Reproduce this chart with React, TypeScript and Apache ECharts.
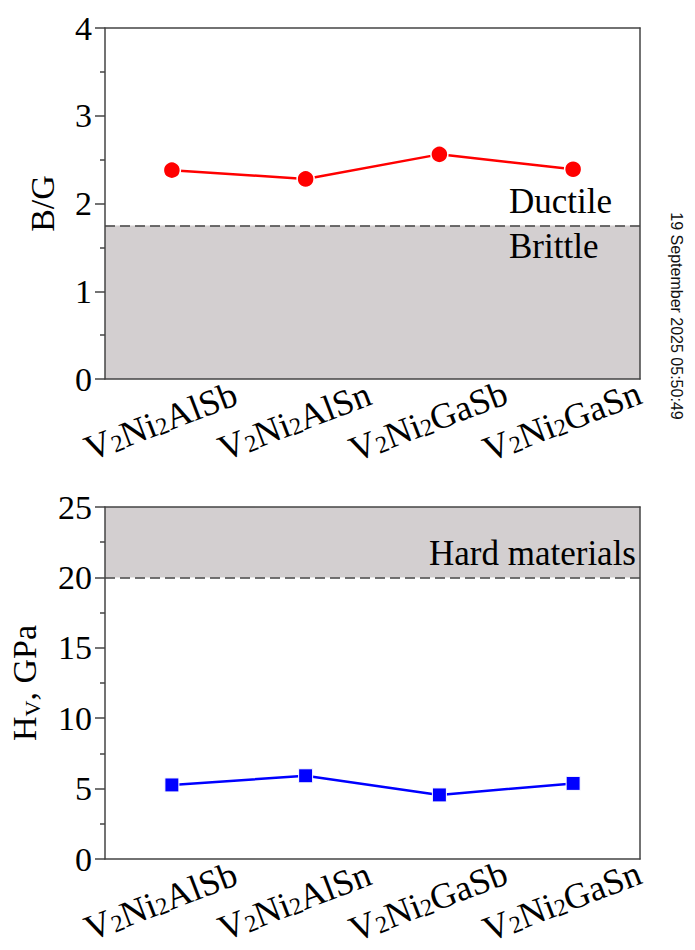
import React, { useEffect, useRef } from "react";
import * as echarts from "echarts";

const categories = ["V2Ni2AlSb", "V2Ni2AlSn", "V2Ni2GaSb", "V2Ni2GaSn"];
const bgValues = [2.38, 2.28, 2.56, 2.39];
const hvValues = [5.26, 5.91, 4.55, 5.37];
const bgRange = [0, 4];
const bgInterval = 1;
const bgThreshold = 1.75;
const hvRange = [0, 25];
const hvInterval = 5;
const hvThreshold = 20;
const bgAnnotations = ["Ductile", "Brittle"];
const hvAnnotation = "Hard materials";
const stampText = "19 September 2025 05:50:49";

const SERIF = "'Liberation Serif', 'Times New Roman', serif";
const AXIS = "#444444";
const SHADE = "#d3cfd0";

const toRich = (v: string) =>
  v
    .split(/(\d+)/)
    .filter((p) => p.length > 0)
    .map((p) => (/^\d+$/.test(p) ? `{s|${p}}` : `{m|${p}}`))
    .join("");

const catRich = {
  m: { fontSize: 36, fontFamily: SERIF, color: "#000", lineHeight: 34 },
  s: { fontSize: 24, fontFamily: SERIF, color: "#000", lineHeight: 2, verticalAlign: "bottom" },
};

const nameRich = {
  m: { fontSize: 34, fontFamily: SERIF, color: "#000", lineHeight: 38 },
  s: { fontSize: 22, fontFamily: SERIF, color: "#000", lineHeight: 14, verticalAlign: "bottom" },
};

function makeXAxes(gridIndex: number) {
  return [
    {
      gridIndex,
      type: "category",
      data: categories,
      boundaryGap: true,
      z: 10,
      axisLine: { onZero: false, lineStyle: { color: AXIS, width: 1.5 } },
      axisTick: { alignWithLabel: true, length: 10, lineStyle: { color: AXIS, width: 1.5 } },
      axisLabel: {
        interval: 0,
        rotate: 21,
        hideOverlap: false,
        align: "center",
        verticalAlign: "middle",
        margin: 38,
        padding: [0, 24, 0, 0],
        formatter: (v: string) => toRich(v),
        rich: catRich,
      },
      splitLine: { show: false },
    },
    {
      gridIndex,
      type: "category",
      data: categories,
      position: "top",
      z: 10,
      axisLine: { show: true, onZero: false, lineStyle: { color: AXIS, width: 1.5 } },
      axisTick: { show: false },
      axisLabel: { show: false },
      splitLine: { show: false },
    },
  ];
}

function makeYAxes(gridIndex: number, range: number[], interval: number, name: string, nameGap: number) {
  return [
    {
      gridIndex,
      type: "value",
      min: range[0],
      max: range[1],
      interval,
      z: 10,
      name,
      nameLocation: "middle",
      nameRotate: 90,
      nameGap,
      nameTextStyle: { fontSize: 34, fontFamily: SERIF, color: "#000", rich: nameRich },
      axisLine: { show: true, onZero: false, lineStyle: { color: AXIS, width: 1.5 } },
      axisTick: { show: true, length: 10, lineStyle: { color: AXIS, width: 1.5 } },
      minorTick: { show: true, splitNumber: 2, length: 5, lineStyle: { color: AXIS, width: 1.5 } },
      axisLabel: { fontSize: 34, fontFamily: SERIF, color: "#000", margin: 13 },
      splitLine: { show: false },
      minorSplitLine: { show: false },
    },
    {
      gridIndex,
      type: "value",
      min: range[0],
      max: range[1],
      interval,
      position: "right",
      z: 10,
      axisLine: { show: true, onZero: false, lineStyle: { color: AXIS, width: 1.5 } },
      axisTick: { show: false },
      axisLabel: { show: false },
      splitLine: { show: false },
    },
  ];
}

export default function App() {
  const ref = useRef<HTMLDivElement>(null);

  useEffect(() => {
    document.body.style.margin = "0";
    if (!ref.current) return;
    const chart = echarts.init(ref.current, undefined, { renderer: "svg" });

    const option: any = {
      animation: false,
      backgroundColor: "#ffffff",
      grid: [
        { left: 105, top: 28, width: 535, height: 351, outerBoundsMode: "none", containLabel: false },
        { left: 105, top: 507, width: 535, height: 352, outerBoundsMode: "none", containLabel: false },
      ],
      xAxis: [...makeXAxes(0), ...makeXAxes(1)],
      yAxis: [
        ...makeYAxes(0, bgRange, bgInterval, "B/G", 46),
        ...makeYAxes(1, hvRange, hvInterval, "{m|H}{s|V}{m|, GPa}", 62),
      ],
      series: [
        {
          type: "line",
          xAxisIndex: 0,
          yAxisIndex: 0,
          data: bgValues,
          z: 3,
          symbol: "circle",
          symbolSize: 17,
          lineStyle: { color: "#ff0000", width: 2.5 },
          itemStyle: { color: "#ff0000", borderColor: "#ffffff", borderWidth: 1.5 },
          markArea: {
            silent: true,
            label: { show: false },
            itemStyle: { color: SHADE },
            data: [[{ yAxis: bgRange[0] }, { yAxis: bgThreshold }]],
          },
          markLine: {
            silent: true,
            symbol: "none",
            label: { show: false },
            lineStyle: { color: AXIS, width: 1.5, type: [10, 5] },
            data: [{ yAxis: bgThreshold }],
          },
        },
        {
          type: "line",
          xAxisIndex: 2,
          yAxisIndex: 2,
          data: hvValues,
          z: 3,
          symbol: "rect",
          symbolSize: 14,
          lineStyle: { color: "#0000ff", width: 2.5 },
          itemStyle: { color: "#0000ff", borderColor: "#ffffff", borderWidth: 1 },
          markArea: {
            silent: true,
            label: { show: false },
            itemStyle: { color: SHADE },
            data: [[{ yAxis: hvThreshold }, { yAxis: hvRange[1] }]],
          },
          markLine: {
            silent: true,
            symbol: "none",
            label: { show: false },
            lineStyle: { color: AXIS, width: 1.5, type: [10, 5] },
            data: [{ yAxis: hvThreshold }],
          },
        },
      ],
      graphic: [
        {
          type: "text",
          x: 509,
          y: 201,
          z: 20,
          style: { text: bgAnnotations[0], fontSize: 35, fontFamily: SERIF, fill: "#000", textAlign: "left", textVerticalAlign: "middle" },
        },
        {
          type: "text",
          x: 509,
          y: 246,
          z: 20,
          style: { text: bgAnnotations[1], fontSize: 35, fontFamily: SERIF, fill: "#000", textAlign: "left", textVerticalAlign: "middle" },
        },
        {
          type: "text",
          x: 636,
          y: 553,
          z: 20,
          style: { text: hvAnnotation, fontSize: 35, fontFamily: SERIF, fill: "#000", textAlign: "right", textVerticalAlign: "middle" },
        },
        {
          type: "text",
          x: 676,
          y: 316,
          rotation: -Math.PI / 2,
          z: 20,
          style: { text: stampText, fontSize: 16, fontFamily: "'Liberation Sans', Arial, sans-serif", fill: "#111", textAlign: "center", textVerticalAlign: "middle" },
        },
      ],
    };

    chart.setOption(option);
    return () => chart.dispose();
  }, []);

  return <div ref={ref} style={{ width: 695, height: 950 }} />;
}
